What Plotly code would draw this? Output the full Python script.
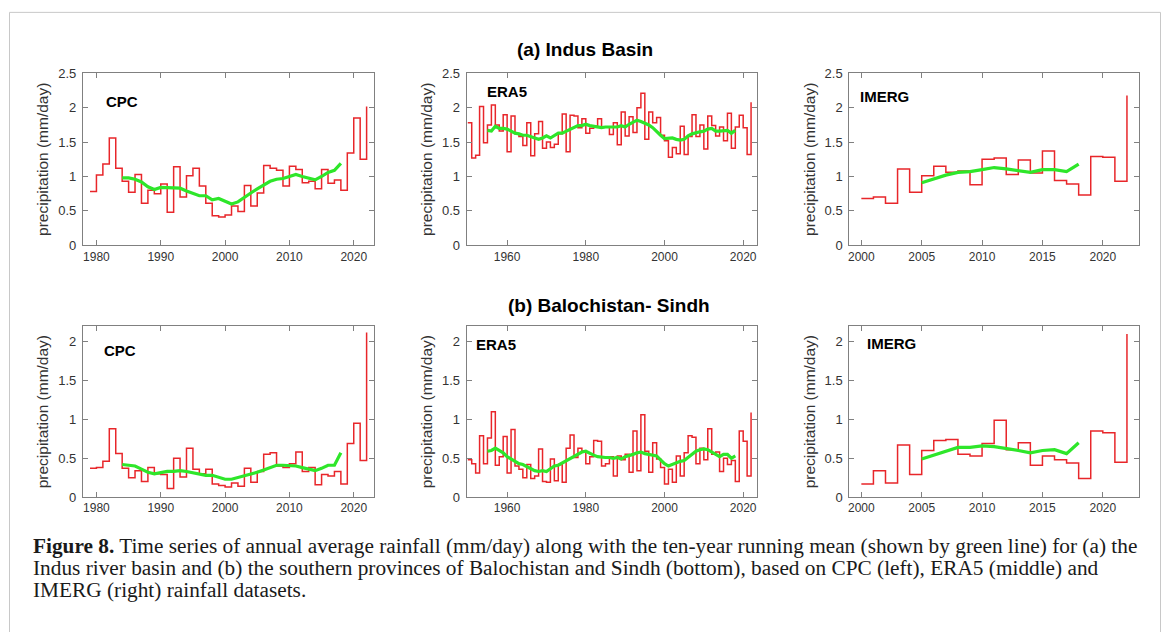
import plotly.graph_objects as go

W, H = 1168, 632

# ---------------- data ----------------
cpc_years = list(range(1979, 2023))
era5_years = list(range(1950, 2023))
imerg_years = list(range(2000, 2023))

indus_cpc = [0.78, 1.02, 1.18, 1.56, 1.12, 0.93, 0.77, 1.03, 0.61, 0.80,
             0.75, 0.89, 0.48, 1.14, 0.70, 1.01, 1.12, 0.86, 0.61, 0.43,
             0.41, 0.44, 0.57, 0.49, 0.87, 0.57, 0.76, 1.16, 1.12, 1.09,
             0.86, 1.15, 1.10, 0.91, 0.93, 0.82, 1.10, 0.90, 0.95, 0.80,
             1.34, 1.85, 1.25, 2.02]
indus_cpc_rm_years = list(range(1984, 2019))
indus_cpc_rm = [0.98, 0.98, 0.96, 0.92, 0.85, 0.81, 0.84, 0.84, 0.84, 0.83,
                0.79, 0.76, 0.72, 0.72, 0.66, 0.68, 0.64, 0.60, 0.63, 0.70,
                0.76, 0.82, 0.88, 0.93, 0.96, 0.97, 1.00, 1.03, 1.00, 0.98,
                0.95, 1.00, 1.06, 1.09, 1.19]

indus_era5 = [1.78, 1.27, 1.31, 2.02, 1.49, 1.75, 2.04, 1.75, 1.66, 1.90,
              1.36, 1.88, 1.62, 1.58, 1.45, 1.78, 1.30, 1.62, 1.80, 1.41,
              1.50, 1.42, 1.47, 1.62, 1.91, 1.36, 1.89, 1.88, 1.71, 1.84,
              1.63, 1.70, 1.73, 1.84, 1.72, 1.72, 1.61, 1.78, 1.46, 1.94,
              1.59, 1.87, 1.64, 2.00, 2.21, 1.54, 1.94, 1.78, 1.86, 1.60,
              1.52, 1.28, 1.42, 1.33, 1.73, 1.32, 1.58, 1.90, 1.58, 1.75,
              1.40, 1.88, 1.74, 1.59, 1.72, 1.52, 1.92, 1.41, 1.72, 1.89,
              1.71, 1.32, 2.08]
indus_era5_rm_years = list(range(1955, 2019))
indus_era5_rm = [1.67, 1.66, 1.73, 1.70, 1.70, 1.69, 1.66, 1.63, 1.62, 1.60,
                 1.60, 1.58, 1.56, 1.54, 1.56, 1.59, 1.56, 1.60, 1.63, 1.63,
                 1.66, 1.68, 1.71, 1.74, 1.74, 1.76, 1.74, 1.73, 1.72, 1.71,
                 1.72, 1.72, 1.73, 1.72, 1.74, 1.72, 1.76, 1.79, 1.82, 1.80,
                 1.78, 1.75, 1.71, 1.65, 1.60, 1.55, 1.55, 1.56, 1.54, 1.53,
                 1.54, 1.59, 1.62, 1.64, 1.65, 1.66, 1.69, 1.70, 1.66, 1.66,
                 1.67, 1.67, 1.63, 1.67]

indus_imerg = [0.68, 0.70, 0.61, 1.11, 0.77, 1.01, 1.15, 1.06, 1.08, 0.88,
               1.25, 1.27, 1.03, 1.24, 1.05, 1.37, 0.94, 0.89, 0.73, 1.29,
               1.28, 0.93, 2.18]
indus_imerg_rm_years = list(range(2005, 2019))
indus_imerg_rm = [0.91, 0.97, 1.02, 1.06, 1.07, 1.10, 1.13, 1.11, 1.08, 1.06,
                  1.10, 1.10, 1.07, 1.18]

bs_cpc = [0.37, 0.38, 0.46, 0.88, 0.56, 0.37, 0.25, 0.34, 0.20, 0.38,
          0.30, 0.29, 0.11, 0.50, 0.26, 0.63, 0.36, 0.30, 0.36, 0.17,
          0.15, 0.13, 0.18, 0.14, 0.37, 0.19, 0.33, 0.55, 0.57, 0.40,
          0.38, 0.43, 0.58, 0.33, 0.38, 0.16, 0.29, 0.27, 0.33, 0.17,
          0.69, 0.95, 0.47, 2.12]
bs_cpc_rm_years = list(range(1984, 2019))
bs_cpc_rm = [0.42, 0.41, 0.40, 0.36, 0.32, 0.30, 0.32, 0.33, 0.33, 0.34,
             0.33, 0.31, 0.30, 0.28, 0.28, 0.26, 0.23, 0.23, 0.25, 0.28,
             0.30, 0.32, 0.35, 0.38, 0.41, 0.41, 0.41, 0.40, 0.38, 0.36,
             0.34, 0.37, 0.41, 0.41, 0.57]

bs_era5 = [0.48, 0.43, 0.31, 0.79, 0.43, 0.76, 1.10, 0.41, 0.52, 0.78,
           0.31, 0.87, 0.40, 0.36, 0.25, 0.42, 0.24, 0.27, 0.62, 0.20,
           0.19, 0.49, 0.21, 0.42, 0.19, 0.63, 0.80, 0.51, 0.63, 0.59,
           0.43, 0.52, 0.73, 0.72, 0.40, 0.43, 0.52, 0.27, 0.53, 0.48,
           0.55, 0.32, 0.85, 0.34, 1.06, 0.59, 0.32, 0.70, 0.49, 0.38,
           0.17, 0.36, 0.19, 0.53, 0.27, 0.57, 0.79, 0.77, 0.43, 0.63,
           0.48, 0.88, 0.55, 0.58, 0.33, 0.50, 0.42, 0.47, 0.20, 0.85,
           0.72, 0.27, 1.09]
bs_era5_rm_years = list(range(1955, 2019))
bs_era5_rm = [0.59, 0.60, 0.63, 0.60, 0.57, 0.52, 0.49, 0.46, 0.43, 0.42,
              0.39, 0.36, 0.34, 0.33, 0.34, 0.33, 0.36, 0.40, 0.41, 0.44,
              0.47, 0.50, 0.53, 0.56, 0.58, 0.59, 0.56, 0.54, 0.52, 0.51,
              0.51, 0.51, 0.50, 0.51, 0.49, 0.52, 0.53, 0.55, 0.57, 0.58,
              0.56, 0.55, 0.53, 0.53, 0.48, 0.43, 0.40, 0.42, 0.45, 0.46,
              0.47, 0.51, 0.55, 0.59, 0.61, 0.62, 0.61, 0.58, 0.54, 0.52,
              0.55, 0.55, 0.50, 0.53]

bs_imerg = [0.17, 0.34, 0.18, 0.67, 0.29, 0.60, 0.73, 0.74, 0.55, 0.53,
            0.69, 0.99, 0.61, 0.70, 0.41, 0.53, 0.48, 0.44, 0.24, 0.85,
            0.83, 0.45, 2.10]
bs_imerg_rm_years = list(range(2005, 2019))
bs_imerg_rm = [0.49, 0.54, 0.59, 0.64, 0.64, 0.66, 0.65, 0.63, 0.60, 0.57,
               0.60, 0.61, 0.56, 0.70]

panel_labels = ["CPC", "ERA5", "IMERG", "CPC", "ERA5", "IMERG"]
row_titles = ["(a) Indus Basin", "(b) Balochistan- Sindh"]
y_title = "precipitation (mm/day)"
caption_lines = [
    "<b>Figure 8.</b> Time series of annual average rainfall (mm/day) along with the ten-year running mean (shown by green line) for (a) the",
    "Indus river basin and (b) the southern provinces of Balochistan and Sindh (bottom), based on CPC (left), ERA5 (middle) and",
    "IMERG (right) rainfall datasets.",
]

# ---------------- layout helpers ----------------
def px_x(p):
    return p / W

def px_y(p):
    return 1 - p / H

col_px = [(82, 373), (466, 757), (849, 1139)]
row_px = [(68, 244), (327, 502)]
x_ranges = [[1977.9, 2023.1], [1949.7, 2023.6], [1999.0, 2023.0]]
x_ticks = [[1980, 1990, 2000, 2010, 2020], [1960, 1980, 2000, 2020],
           [2000, 2005, 2010, 2015, 2020]]
y_ranges = [[0, 2.5], [0, 2.2]]
y_ticks = [[0, 0.5, 1, 1.5, 2, 2.5], [0, 0.5, 1, 1.5, 2]]

series = [
    (cpc_years, indus_cpc, indus_cpc_rm_years, indus_cpc_rm),
    (era5_years, indus_era5, indus_era5_rm_years, indus_era5_rm),
    (imerg_years, indus_imerg, indus_imerg_rm_years, indus_imerg_rm),
    (cpc_years, bs_cpc, bs_cpc_rm_years, bs_cpc_rm),
    (era5_years, bs_era5, bs_era5_rm_years, bs_era5_rm),
    (imerg_years, bs_imerg, bs_imerg_rm_years, bs_imerg_rm),
]

label_pos = [(103, 97), (484, 87), (858, 92), (101, 352), (473, 346), (865, 345)]

RED = "#e8262a"
GREEN = "#2ee62a"
AX = "#808080"
TXT = "#333333"

fig = go.Figure()
layout = dict(
    width=W, height=H, margin=dict(l=0, r=0, t=0, b=0),
    paper_bgcolor="white", plot_bgcolor="white", showlegend=False,
    font=dict(family="Liberation Sans, Arial, sans-serif", color=TXT),
)
annotations = []

for i, (yrs, vals, ryrs, rvals) in enumerate(series):
    r, c = divmod(i, 3)
    n = i + 1
    xa = "x" if n == 1 else f"x{n}"
    ya = "y" if n == 1 else f"y{n}"
    fig.add_trace(go.Scatter(x=yrs, y=vals, mode="lines", line_shape="hv",
                             line=dict(color=RED, width=1.5),
                             xaxis=xa, yaxis=ya, hoverinfo="skip"))
    fig.add_trace(go.Scatter(x=ryrs, y=rvals, mode="lines",
                             line=dict(color=GREEN, width=3.2),
                             xaxis=xa, yaxis=ya, hoverinfo="skip"))
    x0, x1 = col_px[c]
    y0, y1 = row_px[r]
    common = dict(showline=True, linecolor=AX, linewidth=1, mirror="ticks",
                  ticks="inside", ticklen=5, tickcolor=AX, showgrid=False,
                  zeroline=False)
    layout["xaxis" if n == 1 else f"xaxis{n}"] = dict(
        domain=[px_x(x0), px_x(x1)], range=x_ranges[c], tickvals=x_ticks[c],
        anchor=ya, tickfont=dict(size=12, color=TXT), **common)
    layout["yaxis" if n == 1 else f"yaxis{n}"] = dict(
        domain=[px_y(y1), px_y(y0)], range=y_ranges[r], tickvals=y_ticks[r],
        ticktext=[("%g" % v) for v in y_ticks[r]], ticklabelstandoff=3,
        anchor=xa, tickfont=dict(size=13, color=TXT),
        title=dict(text=y_title, font=dict(size=15.5, color=TXT), standoff=5),
        **common)
    lx, ly = label_pos[i]
    annotations.append(dict(text="<b>%s</b>" % panel_labels[i], xref="paper", yref="paper",
                            x=px_x(lx), y=px_y(ly), xanchor="left", yanchor="middle",
                            showarrow=False, font=dict(size=15, color="black")))

annotations.append(dict(text="<b>%s</b>" % row_titles[0], xref="paper", yref="paper",
                        x=px_x(585), y=px_y(44), xanchor="center", yanchor="middle",
                        showarrow=False, font=dict(size=19, color="black")))
annotations.append(dict(text="<b>%s</b>" % row_titles[1], xref="paper", yref="paper",
                        x=px_x(609), y=px_y(306), xanchor="center", yanchor="middle",
                        showarrow=False, font=dict(size=19, color="black")))

cap_y = [552, 574.5, 597]
for t, yy in zip(caption_lines, cap_y):
    annotations.append(dict(text=t, xref="paper", yref="paper",
                            x=px_x(30), y=px_y(yy), xanchor="left", yanchor="middle",
                            showarrow=False,
                            font=dict(size=21.3, family="Liberation Serif, Times New Roman, serif",
                                      color="#1a1a1a")))

layout["annotations"] = annotations
layout["shapes"] = [
    dict(type="rect", xref="paper", yref="paper",
         x0=px_x(8.5), x1=px_x(1160.5), y0=-0.05, y1=px_y(5.5),
         line=dict(color="#c8c8c8", width=1)),
]
fig.update_layout(**layout)

reset_js = (
    "var gd=document.getElementById('{plot_id}');"
    "var de=document.documentElement, b=document.body;"
    "de.style.margin='0';de.style.padding='0';de.style.overflow='hidden';"
    "b.style.margin='0';b.style.padding='0';b.style.overflow='hidden';"
    "if(gd&&gd.parentElement){gd.parentElement.style.fontSize='0';"
    "gd.parentElement.style.lineHeight='0';gd.parentElement.style.height='" + str(H) + "px';"
    "gd.parentElement.style.overflow='hidden';}"
    "window.scrollTo(0,0);"
)
fig.write_html("out.html", config={"displayModeBar": False, "staticPlot": True},
               post_script=reset_js)
